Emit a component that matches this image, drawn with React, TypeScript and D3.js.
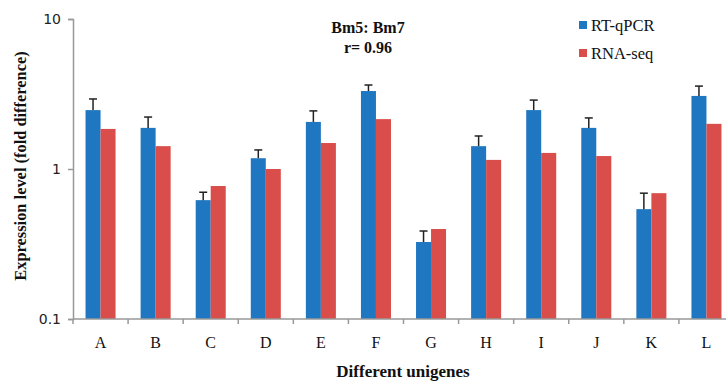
import { useEffect, useRef } from 'react';
import * as d3 from 'd3';

const categories = ['A', 'B', 'C', 'D', 'E', 'F', 'G', 'H', 'I', 'J', 'K', 'L'];
const rtqpcr = [2.47, 1.88, 0.62, 1.18, 2.06, 3.31, 0.326, 1.42, 2.47, 1.88, 0.54, 3.07];
const rtqpcrErrTop = [2.93, 2.22, 0.7, 1.34, 2.44, 3.63, 0.386, 1.66, 2.88, 2.19, 0.69, 3.57];
const rnaseq = [1.85, 1.42, 0.77, 1.0, 1.49, 2.15, 0.398, 1.15, 1.28, 1.22, 0.69, 2.0];
const seriesNames = ['RT-qPCR', 'RNA-seq'];
const seriesColors = ['#1f77c2', '#d94d4a'];
const yTicks = [0.1, 1, 10];

const App = () => {
  const svgRef = useRef<SVGSVGElement>(null);

  useEffect(() => {
    const svg = d3.select(svgRef.current);
    svg.selectAll('*').remove();

    const left = 73;
    const right = 734;
    const top = 19;
    const bottom = 319;

    const x = d3.scaleBand().domain(categories).range([left, right]).paddingInner(0.455).paddingOuter(0.2275);
    const xs = d3.scaleBand().domain(seriesNames).range([0, x.bandwidth()]);
    const y = d3.scaleLog().domain([0.1, 10]).range([bottom, top]);

    const serif = '"Liberation Serif", "Times New Roman", serif';

    // bars
    const values = [rtqpcr, rnaseq];
    seriesNames.forEach((name, si) => {
      svg
        .append('g')
        .selectAll('rect')
        .data(categories)
        .enter()
        .append('rect')
        .attr('x', (c) => (x(c) as number) + (xs(name) as number))
        .attr('width', xs.bandwidth())
        .attr('y', (c, i) => y(values[si][i]))
        .attr('height', (c, i) => bottom - y(values[si][i]))
        .attr('fill', seriesColors[si]);
    });

    // error bars (upper only)
    const err = svg.append('g').attr('stroke', '#222').attr('stroke-width', 1.5);
    categories.forEach((c, i) => {
      const cx = (x(c) as number) + (xs('RT-qPCR') as number) + xs.bandwidth() / 2;
      err.append('line').attr('x1', cx).attr('x2', cx).attr('y1', y(rtqpcr[i])).attr('y2', y(rtqpcrErrTop[i]));
      err.append('line').attr('x1', cx - 4).attr('x2', cx + 4).attr('y1', y(rtqpcrErrTop[i])).attr('y2', y(rtqpcrErrTop[i]));
    });

    // y axis
    const yAxis = svg
      .append('g')
      .attr('transform', `translate(${left},0)`)
      .call(d3.axisLeft(y).tickValues(yTicks).tickFormat((d) => String(d)).tickSize(5).tickPadding(7));
    yAxis.select('.domain').attr('stroke', '#999').attr('stroke-width', 1.5);
    yAxis.selectAll('.tick line').attr('stroke', '#999').attr('stroke-width', 1.5);
    yAxis
      .selectAll('.tick text')
      .attr('fill', '#222')
      .style('font-family', '"DejaVu Sans", Verdana, sans-serif')
      .style('font-size', '14px');

    // x axis
    const xAxisG = svg.append('g');
    xAxisG
      .append('line')
      .attr('x1', left)
      .attr('x2', right)
      .attr('y1', bottom)
      .attr('y2', bottom)
      .attr('stroke', '#999')
      .attr('stroke-width', 1.5);
    const step = x.step();
    d3.range(categories.length + 1).forEach((i) => {
      const tx = left + i * step;
      xAxisG
        .append('line')
        .attr('x1', tx)
        .attr('x2', tx)
        .attr('y1', bottom)
        .attr('y2', bottom + 5)
        .attr('stroke', '#999')
        .attr('stroke-width', 1.5);
    });
    xAxisG
      .selectAll('text')
      .data(categories)
      .enter()
      .append('text')
      .attr('x', (c) => (x(c) as number) + x.bandwidth() / 2)
      .attr('y', 348)
      .attr('text-anchor', 'middle')
      .style('font-family', serif)
      .style('font-size', '16px')
      .attr('fill', '#111')
      .text((c) => c);

    // axis titles
    svg
      .append('text')
      .attr('x', 403)
      .attr('y', 377)
      .attr('text-anchor', 'middle')
      .style('font-family', serif)
      .style('font-size', '17px')
      .style('font-weight', 'bold')
      .attr('fill', '#111')
      .text('Different unigenes');

    svg
      .append('text')
      .attr('transform', 'translate(26,166) rotate(-90)')
      .attr('text-anchor', 'middle')
      .style('font-family', serif)
      .style('font-size', '16.4px')
      .style('font-weight', 'bold')
      .attr('fill', '#111')
      .text('Expression level (fold difference)');

    // title
    const title = svg
      .append('text')
      .attr('text-anchor', 'middle')
      .style('font-family', serif)
      .style('font-size', '16px')
      .style('font-weight', 'bold')
      .attr('fill', '#111');
    title.append('tspan').attr('x', 368).attr('y', 33).text('Bm5: Bm7');
    title.append('tspan').attr('x', 368).attr('y', 53).text('r= 0.96');

    // legend
    const legend = svg
      .selectAll('.legend')
      .data(seriesNames)
      .enter()
      .append('g')
      .attr('class', 'legend')
      .attr('transform', (d, i) => `translate(579,${21 + i * 28})`);
    legend
      .append('rect')
      .attr('width', 8)
      .attr('height', 8)
      .attr('fill', (d, i) => seriesColors[i]);
    legend
      .append('text')
      .attr('x', 12)
      .attr('y', 10)
      .style('font-family', serif)
      .style('font-size', '16.5px')
      .attr('fill', '#111')
      .text((d) => d);
  }, []);

  return (
    <svg
      ref={svgRef}
      width={726}
      height={381}
      style={{ position: 'absolute', left: 0, top: 0, background: '#fff' }}
    />
  );
};

export default App;
